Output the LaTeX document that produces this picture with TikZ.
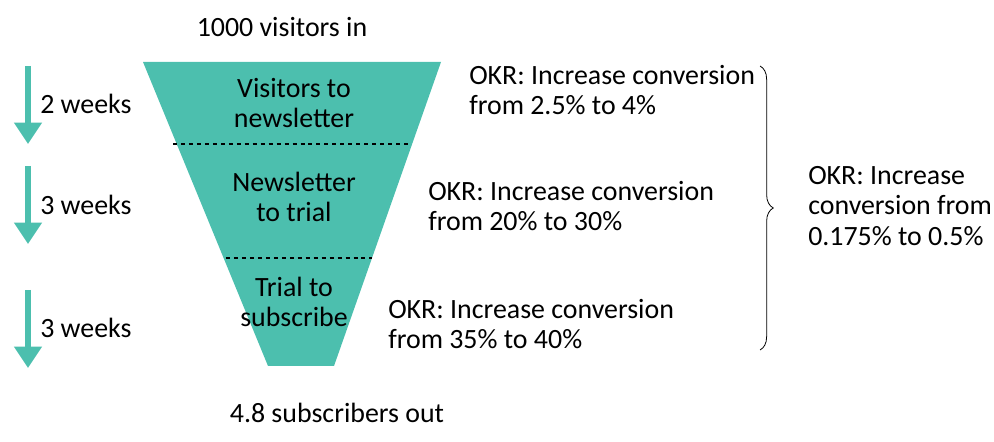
\documentclass[tikz,border=0pt]{standalone}
\usepackage{fontspec}
\setmainfont{Carlito}
\usetikzlibrary{arrows.meta,decorations.pathreplacing}
\definecolor{teal1}{HTML}{4CBFAE}
\begin{document}
\begin{tikzpicture}[x=0.0264583cm,y=-0.0264583cm,
  txt/.style={font=\fontsize{21}{23}\selectfont,inner sep=0pt},
  ltxt/.style={txt,align=left,anchor=west},
  ctxt/.style={txt,align=center},
  timearrow/.style={teal1,line width=4.5pt,-{Triangle[length=16pt,width=20pt]}}]
\useasboundingbox (0,0) rectangle (994,442);
\fill[teal1] (143,62) -- (441,62) -- (334,366) -- (268,366) -- cycle;
\draw[dashed,thick] (173,144) -- (412,144);
\draw[dashed,thick] (226,258) -- (372,258);
\node[ctxt] (top) at (282,27) {1000 visitors in};
\node[ctxt] (s1) at (294,103) {Visitors to\\newsletter};
\node[ctxt] (s2) at (294,197) {Newsletter\\to trial};
\node[ctxt] (s3) at (294,302) {Trial to\\subscribe};
\node[ctxt] (bot) at (337,413) {4.8 subscribers out};
\coordinate (a1s) at (28,66); \coordinate (a1e) at (28,144);
\coordinate (a2s) at (28,166); \coordinate (a2e) at (28,244);
\coordinate (a3s) at (28,290); \coordinate (a3e) at (28,368);
\draw[timearrow] (a1s) -- (a1e);
\draw[timearrow] (a2s) -- (a2e);
\draw[timearrow] (a3s) -- (a3e);
\node[ltxt] (w1) at (40,104) {2 weeks};
\node[ltxt] (w2) at (40,205) {3 weeks};
\node[ltxt] (w3) at (40,328) {3 weeks};
\node[ltxt] (o1) at (469,90) {OKR: Increase conversion\\from 2.5\% to 4\%};
\node[ltxt] (o2) at (428,206) {OKR: Increase conversion\\from 20\% to 30\%};
\node[ltxt] (o3) at (388,324) {OKR: Increase conversion\\from 35\% to 40\%};
\coordinate (b1) at (760,66); \coordinate (b2) at (760,350);
\draw[semithick,decorate,decoration={brace,amplitude=10pt}] (b1) -- (b2);
\node[ltxt] (o4) at (808,206) {OKR: Increase\\conversion from\\0.175\% to 0.5\%};
\end{tikzpicture}
\end{document}
